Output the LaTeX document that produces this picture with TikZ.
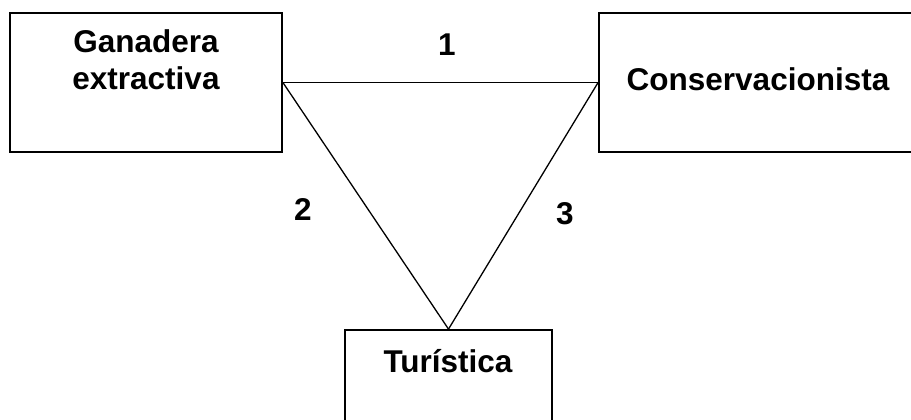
\documentclass[tikz,border=0pt]{standalone}
\usepackage{fontspec}
\setmainfont{Liberation Sans}
\begin{document}
\begin{tikzpicture}[x=1pt,y=-1pt,
  box/.style={draw=black,line width=1.8pt,rectangle,inner sep=0pt},
  lbl/.style={anchor=base,font=\fontsize{31.5}{36}\selectfont\bfseries,inner sep=0pt},
  link/.style={draw=black,line width=1.3pt}]
\useasboundingbox (0,0) rectangle (911,420);
\clip (0,0) rectangle (911,420);
% the three boxes (right and bottom ones run past the page edge)
\node[box,minimum width=272pt,minimum height=139pt] (gan) at (146,82.5) {};
\node[box,minimum width=326pt,minimum height=139pt] (cons) at (762,82.5) {};
\node[box,minimum width=207pt,minimum height=120pt] (tur) at (448.5,390) {};
% box titles
\node[lbl] (ganA) at (146,53) {Ganadera};
\node[lbl] (ganB) at (146,90) {extractiva};
\node[lbl] (consT) at (758,91) {Conservacionista};
\node[lbl] (turT) at (448,372) {Turística};
% triangle of relations
\draw[link] (gan.east) -- (cons.west);
\draw[link] (gan.east) -- (tur.north);
\draw[link] (cons.west) -- (tur.north);
% relation numbers
\node[lbl] (n1) at (447,56) {1};
\node[lbl] (n2) at (303,220) {2};
\node[lbl] (n3) at (565,224) {3};
\end{tikzpicture}
\end{document}
